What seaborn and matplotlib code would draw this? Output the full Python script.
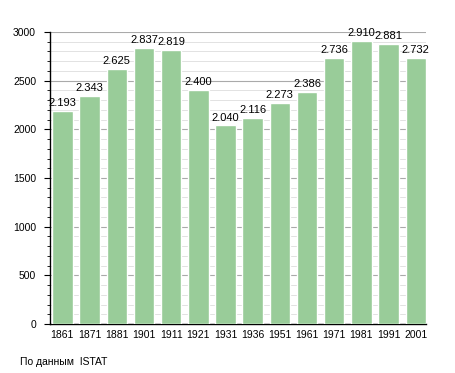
import matplotlib
matplotlib.use("Agg")
import matplotlib.pyplot as plt
import pandas as pd
import seaborn as sns
from matplotlib.ticker import MultipleLocator

# Dati censimenti
years = ["1861", "1871", "1881", "1901", "1911", "1921", "1931",
         "1936", "1951", "1961", "1971", "1981", "1991", "2001"]
population = [2193, 2343, 2625, 2837, 2819, 2400, 2040,
              2116, 2273, 2386, 2736, 2910, 2881, 2732]
source_note = "По данным  ISTAT"

df = pd.DataFrame({"year": years, "pop": population})

sns.set_style("white")
plt.rcParams["font.family"] = ["Liberation Sans", "DejaVu Sans"]
plt.rcParams["text.color"] = "black"
plt.rcParams["xtick.color"] = "black"
plt.rcParams["ytick.color"] = "black"

fig = plt.figure(figsize=(4.55, 3.73), dpi=100)
ax = fig.add_axes([50 / 455, 49 / 373, 376 / 455, 292 / 373])

bar_w = 0.75
sns.barplot(data=df, x="year", y="pop", color="#99cc99", saturation=1,
            width=bar_w, ax=ax, zorder=3)

ax.set_ylim(0, 3000)
ax.set_xlim(-bar_w / 2 - 0.08, len(years) - 1 + bar_w / 2)
ax.yaxis.set_major_locator(MultipleLocator(500))
ax.yaxis.set_minor_locator(MultipleLocator(100))
ax.grid(axis="y", which="major", color="#aaaaaa", linewidth=0.8, zorder=0)
ax.grid(axis="y", which="minor", color="#dddddd", linewidth=0.6, zorder=0)
ax.set_xlabel("")
ax.set_ylabel("")

for s in ["top", "right"]:
    ax.spines[s].set_visible(False)
for s in ["left", "bottom"]:
    ax.spines[s].set_color("black")
    ax.spines[s].set_linewidth(1)

ax.tick_params(axis="y", which="major", length=4, width=0.8, labelsize=7.5,
               left=True, pad=6, labelcolor="black")
ax.tick_params(axis="y", which="minor", length=2, width=0.6, left=True)
ax.tick_params(axis="x", length=0, labelsize=7.5, pad=4, labelcolor="black")

# Etichette sopra le barre
for i, v in enumerate(population):
    label = f"{v:,}".replace(",", ".")
    ax.text(i, v + 30, label, ha="center", va="bottom", fontsize=8, color="black", zorder=4)

fig.text(20 / 455, 1 - 362 / 373, source_note, fontsize=7.5, va="center", ha="left", color="black")

fig.savefig("out.png", dpi=100)
